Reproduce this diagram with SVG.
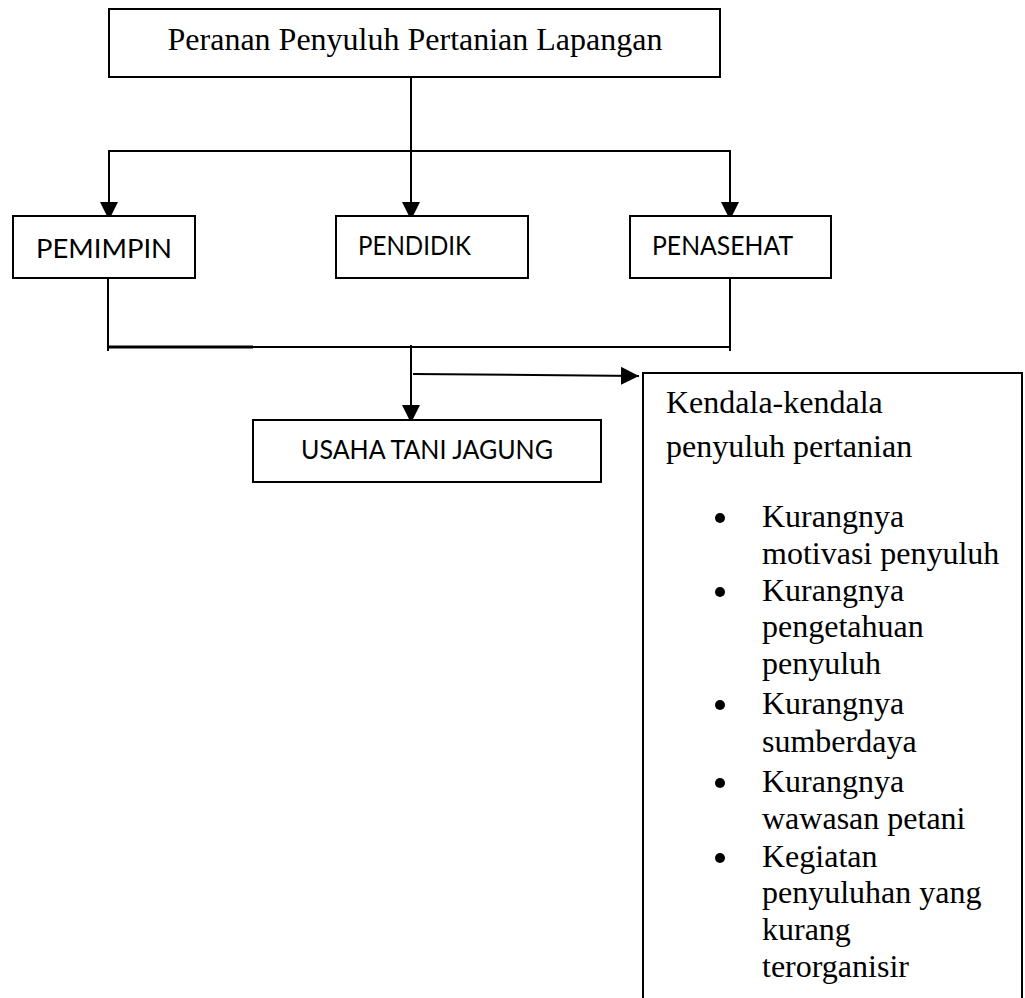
<svg xmlns="http://www.w3.org/2000/svg" width="1025" height="998" viewBox="0 0 1025 998">
  <style>
    .box { fill: #ffffff; stroke: #000000; stroke-width: 2; }
    .serif { font-family: "Liberation Serif", "Times New Roman", serif; font-size: 32px; fill: #000000; }
    .sans { font-family: Lato, "Liberation Sans", sans-serif; font-size: 26.5px; fill: #000000; }
    .line { fill: none; stroke: #000000; stroke-width: 2; }
    .bullet { fill: #000000; }
  </style>
  <defs>
    <marker id="arrow" markerUnits="userSpaceOnUse" markerWidth="18" markerHeight="18" viewBox="0 0 16 16" refX="16" refY="8" orient="auto">
      <path d="M0,0 L16,8 L0,16 Z" fill="#000000"/>
    </marker>
  </defs>
  <rect width="1025" height="998" fill="#ffffff"/>

  <g id="connectors">
    <!-- top to branch -->
    <line class="line" x1="411" y1="72" x2="411" y2="151"/>
    <line class="line" x1="109" y1="151" x2="731" y2="151"/>
    <line class="line" x1="109" y1="150" x2="109" y2="220" marker-end="url(#arrow)"/>
    <line class="line" x1="411" y1="151" x2="411" y2="220" marker-end="url(#arrow)"/>
    <line class="line" x1="730" y1="150" x2="730" y2="220" marker-end="url(#arrow)"/>
    <!-- merge -->
    <line class="line" x1="108" y1="273" x2="108" y2="351"/>
    <line class="line" x1="730" y1="273" x2="730" y2="351"/>
    <line class="line" x1="108" y1="347" x2="730" y2="347"/>
    <line x1="108" y1="347" x2="253" y2="347" stroke="#000000" stroke-width="3"/>
    <line class="line" x1="411" y1="345" x2="411" y2="423" marker-end="url(#arrow)"/>
    <line class="line" x1="413" y1="374" x2="639" y2="376" marker-end="url(#arrow)"/>
  </g>

  <g id="node-peranan">
    <rect class="box" x="109" y="9" width="611" height="68"/>
    <text class="serif" x="415" y="50" text-anchor="middle">Peranan Penyuluh Pertanian Lapangan</text>
  </g>

  <g id="node-pemimpin">
    <rect class="box" x="13" y="216" width="182" height="62"/>
    <text class="sans" x="36" y="258" textLength="136" lengthAdjust="spacingAndGlyphs">PEMIMPIN</text>
  </g>

  <g id="node-pendidik">
    <rect class="box" x="336" y="216" width="192" height="62"/>
    <text class="sans" x="358" y="255" textLength="113" lengthAdjust="spacingAndGlyphs">PENDIDIK</text>
  </g>

  <g id="node-penasehat">
    <rect class="box" x="630" y="216" width="201" height="62"/>
    <text class="sans" x="652" y="255" textLength="141" lengthAdjust="spacingAndGlyphs">PENASEHAT</text>
  </g>

  <g id="node-usaha">
    <rect class="box" x="253" y="420" width="348" height="62"/>
    <text class="sans" x="301" y="459" textLength="252" lengthAdjust="spacingAndGlyphs">USAHA TANI JAGUNG</text>
  </g>

  <g id="node-kendala">
    <rect class="box" x="643" y="373" width="379" height="660"/>
    <text class="serif" x="666" y="413">Kendala-kendala</text>
    <text class="serif" x="666" y="457">penyuluh pertanian</text>
    <circle class="bullet" cx="720" cy="518" r="5"/>
    <text class="serif" x="762" y="527">Kurangnya</text>
    <text class="serif" x="762" y="564">motivasi penyuluh</text>
    <circle class="bullet" cx="720" cy="592" r="5"/>
    <text class="serif" x="762" y="601">Kurangnya</text>
    <text class="serif" x="762" y="637">pengetahuan</text>
    <text class="serif" x="762" y="674">penyuluh</text>
    <circle class="bullet" cx="720" cy="705" r="5"/>
    <text class="serif" x="762" y="714">Kurangnya</text>
    <text class="serif" x="762" y="752">sumberdaya</text>
    <circle class="bullet" cx="720" cy="783" r="5"/>
    <text class="serif" x="762" y="792">Kurangnya</text>
    <text class="serif" x="762" y="829">wawasan petani</text>
    <circle class="bullet" cx="720" cy="858" r="5"/>
    <text class="serif" x="762" y="867">Kegiatan</text>
    <text class="serif" x="762" y="903">penyuluhan yang</text>
    <text class="serif" x="762" y="940">kurang</text>
    <text class="serif" x="762" y="977">terorganisir</text>
  </g>
</svg>
